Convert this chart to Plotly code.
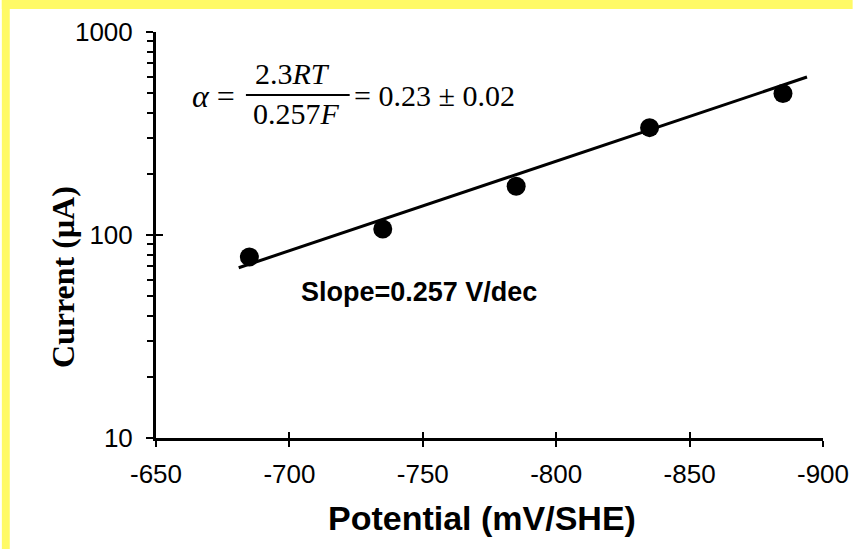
import plotly.graph_objects as go

# ---- data ----
potential = [-685, -735, -785, -835, -885]          # mV/SHE
current = [78, 107, 174, 338, 498]                   # µA
fit_potential = [-681, -894]
fit_current = [69, 600]
x_tickvals = [-650, -700, -750, -800, -850, -900]
x_ticktext = ["-650", "-700", "-750", "-800", "-850", "-900"]
y_tickvals = [10, 100, 1000]
y_ticktext = ["10", "100", "1000"]
y_minor = [20, 30, 40, 50, 60, 70, 80, 90, 200, 300, 400, 500, 600, 700, 800, 900]

W, H = 861, 549
L, R, T, B = 156, 30, 32, 111
PW, PH = W - L - R, H - T - B


def px(x):
    return (x - L) / PW


def py(y):
    return (H - B - y) / PH


fig = go.Figure()
fig.add_trace(go.Scatter(x=fit_potential, y=fit_current, mode="lines",
                         line=dict(color="black", width=3), hoverinfo="skip"))
fig.add_trace(go.Scatter(x=potential, y=current, mode="markers",
                         marker=dict(color="black", size=19)))
# invisible overlay trace to draw inward half of crossing ticks
fig.add_trace(go.Scatter(x=potential, y=current, mode="markers", xaxis="x2", yaxis="y2",
                         marker=dict(opacity=0), hoverinfo="skip"))

tickfont = dict(family="Liberation Sans, Arial", size=26, color="black")

fig.update_layout(
    width=W, height=H,
    margin=dict(l=L, r=R, t=T, b=B),
    paper_bgcolor="white", plot_bgcolor="white",
    showlegend=False,
    xaxis=dict(range=[-650, -900], tickmode="array", tickvals=x_tickvals, ticktext=x_ticktext,
               ticks="outside", ticklen=6, tickwidth=2, tickcolor="black",
               showline=True, linecolor="black", linewidth=3,
               showgrid=False, zeroline=False, tickfont=tickfont, ticklabelstandoff=5),
    yaxis=dict(type="log", range=[1, 3], tickmode="array", tickvals=y_tickvals, ticktext=y_ticktext,
               ticks="outside", ticklen=7, tickwidth=2, tickcolor="black",
               minor=dict(tickmode="array", tickvals=y_minor, ticks="outside", ticklen=6,
                          tickwidth=2, tickcolor="black", showgrid=False),
               showline=True, linecolor="black", linewidth=3,
               showgrid=False, zeroline=False, tickfont=tickfont, ticklabelstandoff=8),
    xaxis2=dict(overlaying="x", anchor="y2", range=[-650, -900], tickmode="array", tickvals=x_tickvals,
                ticks="inside", ticklen=6, tickwidth=2, tickcolor="black", showticklabels=False,
                showline=False, showgrid=False, zeroline=False),
    yaxis2=dict(overlaying="y", anchor="x2", type="log", range=[1, 3], tickmode="array",
                tickvals=[10, 100], ticks="inside", ticklen=7, tickwidth=2, tickcolor="black",
                showticklabels=False, showline=False, showgrid=False, zeroline=False),
)

serif = dict(family="Liberation Serif, Times New Roman", size=30, color="black")
ann = [
    dict(text="<i>α</i> =", x=px(190), y=py(96), xanchor="left", yanchor="middle",
         font=dict(family="Liberation Serif, Times New Roman", size=32, color="black")),
    dict(text="2.3<i>RT</i>", x=px(294), y=py(73), xanchor="center", yanchor="middle", font=serif),
    dict(text="0.257<i>F</i>", x=px(298), y=py(114), xanchor="center", yanchor="middle", font=serif),
    dict(text="= 0.23 ± 0.02", x=px(354), y=py(95), xanchor="left", yanchor="middle", font=serif),
    dict(text="<b>Slope=0.257 V/dec</b>", x=px(301), y=py(292), xanchor="left", yanchor="middle",
         font=dict(family="Liberation Sans, Arial", size=27, color="black")),
    dict(text="<b>Current (μA)</b>", x=px(62), y=py(277), xanchor="center", yanchor="middle",
         textangle=-90, font=dict(family="Liberation Serif, Times New Roman", size=32, color="black")),
    dict(text="<b>Potential (mV/SHE)</b>", x=px(486), y=py(518), xanchor="center", yanchor="middle",
         font=dict(family="Liberation Sans, Arial", size=34, color="black")),
]
for a in ann:
    a.update(xref="paper", yref="paper", showarrow=False)
fig.update_layout(annotations=ann)

yellow = "#FFFA66"
fig.update_layout(shapes=[
    dict(type="rect", xref="paper", yref="paper", x0=px(0), x1=px(8), y0=py(H), y1=py(0),
         fillcolor=yellow, line=dict(width=0), layer="below"),
    dict(type="rect", xref="paper", yref="paper", x0=px(0), x1=px(W), y0=py(9), y1=py(0),
         fillcolor=yellow, line=dict(width=0), layer="below"),
    dict(type="line", xref="paper", yref="paper", x0=px(247), x1=px(352), y0=py(95), y1=py(95),
         line=dict(color="black", width=2)),
])

fig.write_html("out.html")
